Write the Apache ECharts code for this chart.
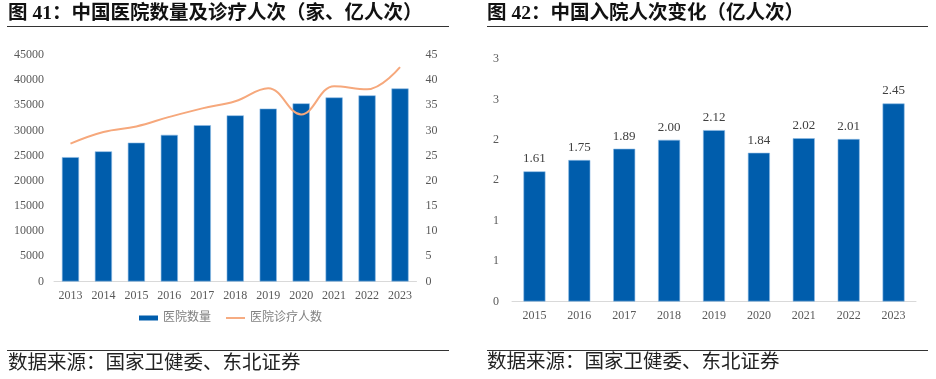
<!DOCTYPE html>
<html>
<head>
<meta charset="utf-8">
<script src="https://cdn.jsdelivr.net/npm/echarts@6/dist/echarts.min.js"></script>
<style>
html,body{margin:0;padding:0;background:#fff;}
#c{width:936px;height:379px;}
</style>
</head>
<body>
<div id="c"></div>
<script>
// ---- data ----
const years1 = ['2013','2014','2015','2016','2017','2018','2019','2020','2021','2022','2023'];
const hospitalCount = [24709, 25860, 27587, 29140, 31056, 33009, 34354, 35394, 36570, 36976, 38355];
const visits = [27.4, 29.7, 30.8, 32.7, 34.4, 35.8, 38.4, 33.2, 38.8, 38.2, 42.6];
const years2 = ['2015','2016','2017','2018','2019','2020','2021','2022','2023'];
const admissions = [1.61, 1.75, 1.89, 2.00, 2.12, 1.84, 2.02, 2.01, 2.45];
const title1 = '图 41：中国医院数量及诊疗人次（家、亿人次）';
const title2 = '图 42：中国入院人次变化（亿人次）';
const sourceText = '数据来源：国家卫健委、东北证券';
const seriesNames = ['医院数量', '医院诊疗人数'];

const SERIF = "'Liberation Serif','Noto Sans CJK SC',serif";
const CJK = "'Liberation Serif','Noto Sans CJK SC',sans-serif";
const BLUE = '#005DAC';
const ORANGE = '#F6A87C';
const AXIS_TXT = '#595959';

const chart = echarts.init(document.getElementById('c'), null, {renderer: 'canvas'});
const option = {
  animation: false,
  backgroundColor: '#fff',
  graphic: [
    {type: 'text', left: 8, top: 4, style: {text: title1, font: "bold 19.5px " + CJK, fill: '#111'}},
    {type: 'line', shape: {x1: 7, y1: 26.5, x2: 449, y2: 26.5}, style: {stroke: '#333', lineWidth: 1.2}},
    {type: 'text', left: 487, top: 4, style: {text: title2, font: "bold 19.5px " + CJK, fill: '#111'}},
    {type: 'line', shape: {x1: 487, y1: 26.5, x2: 928, y2: 26.5}, style: {stroke: '#333', lineWidth: 1.2}},
    {type: 'line', shape: {x1: 7, y1: 350.5, x2: 449, y2: 350.5}, style: {stroke: '#333', lineWidth: 1.2}},
    {type: 'line', shape: {x1: 487, y1: 350.5, x2: 928, y2: 350.5}, style: {stroke: '#333', lineWidth: 1.2}},
    {type: 'text', left: 8, top: 354, style: {text: sourceText, font: "19.5px " + CJK, fill: '#222'}},
    {type: 'text', left: 487, top: 353, style: {text: sourceText, font: "19.5px " + CJK, fill: '#222'}}
  ],
  legend: {
    left: 139, top: 312, padding: 0,
    itemWidth: 19, itemHeight: 5, itemGap: 15,
    textStyle: {color: '#808080', fontSize: 12, fontFamily: CJK},
    data: [
      {name: seriesNames[0], icon: 'rect', itemStyle: {borderWidth: 0}},
      {name: seriesNames[1], icon: 'path://M0,0 L20,0 L20,2 L0,2 Z'}
    ]
  },
  grid: [
    {left: 54, right: 519.5, top: 55, bottom: 97.5},
    {left: 512, right: 20, top: 59, bottom: 77.5}
  ],
  xAxis: [
    {type: 'category', gridIndex: 0, data: years1,
     axisLine: {lineStyle: {color: '#D9D9D9'}}, axisTick: {show: false},
     axisLabel: {color: AXIS_TXT, fontSize: 12, fontFamily: SERIF, margin: 8, interval: 0}},
    {type: 'category', gridIndex: 1, data: years2,
     axisLine: {lineStyle: {color: '#D9D9D9'}}, axisTick: {show: false},
     axisLabel: {color: AXIS_TXT, fontSize: 12, fontFamily: SERIF, margin: 8, interval: 0}}
  ],
  yAxis: [
    {type: 'value', gridIndex: 0, min: 0, max: 45000, interval: 5000,
     axisLine: {show: false}, axisTick: {show: false}, splitLine: {show: false},
     axisLabel: {color: AXIS_TXT, fontSize: 12, fontFamily: SERIF, margin: 10, formatter: v => String(v)}},
    {type: 'value', gridIndex: 0, position: 'right', min: 0, max: 45, interval: 5,
     axisLine: {show: false}, axisTick: {show: false}, splitLine: {show: false},
     axisLabel: {color: AXIS_TXT, fontSize: 12, fontFamily: SERIF, margin: 9}},
    {type: 'value', gridIndex: 1, min: 0, max: 3, interval: 0.5,
     axisLine: {show: false}, axisTick: {show: false}, splitLine: {show: false},
     axisLabel: {color: AXIS_TXT, fontSize: 12, fontFamily: SERIF, margin: 13,
       formatter: v => String(Math.round(v))}}
  ],
  series: [
    {name: seriesNames[0], type: 'bar', xAxisIndex: 0, yAxisIndex: 0, data: hospitalCount,
     barWidth: '52%', itemStyle: {color: BLUE, borderColor: '#8FBCE6', borderWidth: 0.6}},
    {name: seriesNames[1], type: 'line', xAxisIndex: 0, yAxisIndex: 1, data: visits,
     smooth: 0.4, showSymbol: false, symbol: 'none', lineStyle: {color: ORANGE, width: 2}, itemStyle: {color: ORANGE}},
    {name: '入院人次', type: 'bar', xAxisIndex: 1, yAxisIndex: 2, data: admissions,
     barWidth: '49%', itemStyle: {color: BLUE, borderColor: '#8FBCE6', borderWidth: 0.6},
     label: {show: true, position: 'top', distance: 6, color: '#404040', fontSize: 13, fontFamily: SERIF,
       formatter: p => p.value.toFixed(2)}}
  ]
};
chart.setOption(option);
</script>
</body>
</html>
